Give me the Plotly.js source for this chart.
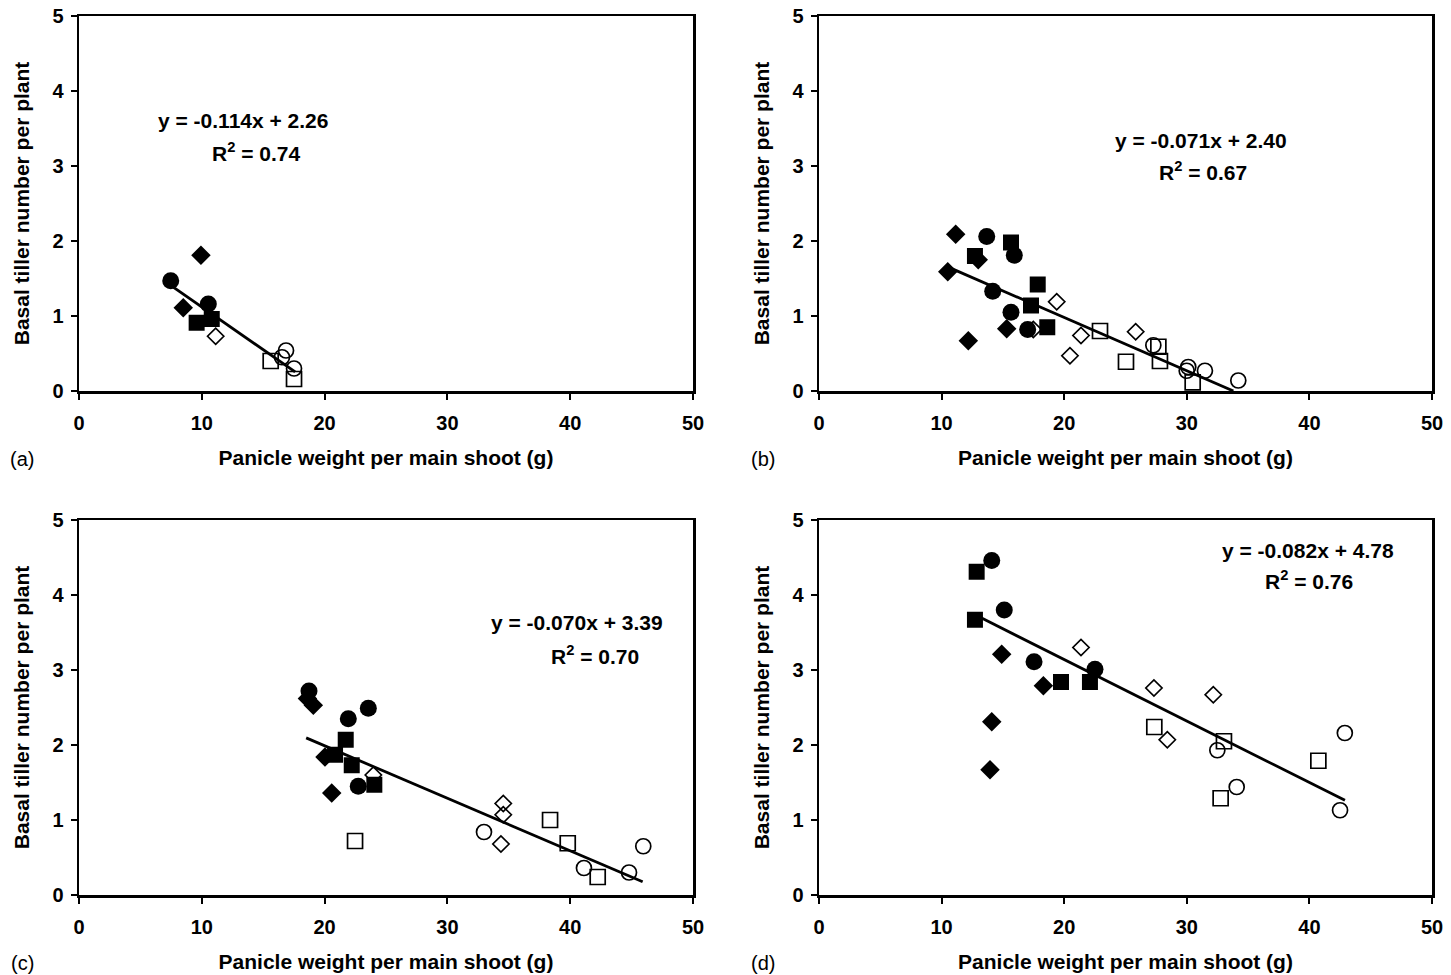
<!DOCTYPE html>
<html>
<head>
<meta charset="utf-8">
<script src="https://cdn.plot.ly/plotly-3.0.1.min.js"></script>
<style>html,body{margin:0;padding:0;background:#fff;}#chart{width:1451px;height:975px;}</style>
</head>
<body>
<div id="chart"></div>
<script>
// ---------- Panel (a) ----------
const a_fcX = [7.47, 10.53];            const a_fcY = [1.47, 1.16];
const a_fdX = [9.93, 8.49];             const a_fdY = [1.81, 1.11];
const a_fsX = [9.58, 10.81];            const a_fsY = [0.91, 0.96];
const a_ocX = [16.86, 16.53, 17.51];    const a_ocY = [0.54, 0.45, 0.30];
const a_odX = [11.13];                  const a_odY = [0.73];
const a_osX = [15.61, 17.51];           const a_osY = [0.40, 0.16];
const a_lineX = [7.5, 17.6];            const a_lineY = [1.405, 0.254];
const a_eq = ["y = -0.114x + 2.26", "R<sup>2</sup> = 0.74"];

// ---------- Panel (b) ----------
const b_fcX = [13.68, 15.93, 14.17, 15.66, 17.02];
const b_fcY = [2.06, 1.81, 1.33, 1.05, 0.82];
const b_fdX = [11.15, 12.99, 10.5, 15.31, 12.18];
const b_fdY = [2.09, 1.75, 1.59, 0.83, 0.67];
const b_fsX = [15.66, 12.72, 17.84, 17.29, 18.62];
const b_fsY = [1.98, 1.80, 1.42, 1.14, 0.85];
const b_ocX = [27.27, 29.99, 30.12, 31.48, 34.2];
const b_ocY = [0.61, 0.27, 0.32, 0.27, 0.14];
const b_odX = [19.39, 17.48, 21.37, 25.83, 20.47];
const b_odY = [1.19, 0.82, 0.74, 0.79, 0.47];
const b_osX = [22.92, 25.04, 27.68, 27.81, 30.48];
const b_osY = [0.80, 0.39, 0.59, 0.40, 0.115];
const b_lineX = [10.5, 33.8];           const b_lineY = [1.655, 0.0];
const b_eq = ["y = -0.071x + 2.40", "R<sup>2</sup> = 0.67"];

// ---------- Panel (c) ----------
const c_fcX = [18.73, 23.56, 21.93, 22.74];
const c_fcY = [2.72, 2.49, 2.35, 1.45];
const c_fdX = [18.6, 19.08, 20.03, 20.58];
const c_fdY = [2.62, 2.53, 1.84, 1.36];
const c_fsX = [21.72, 20.85, 22.21, 24.05];
const c_fsY = [2.07, 1.87, 1.73, 1.47];
const c_ocX = [32.98, 45.95, 41.12, 44.79];
const c_ocY = [0.84, 0.65, 0.36, 0.30];
const c_odX = [23.97, 34.55, 34.55, 34.36];
const c_odY = [1.60, 1.22, 1.07, 0.68];
const c_osX = [22.48, 38.36, 39.8, 42.24];
const c_osY = [0.72, 1.00, 0.69, 0.24];
const c_lineX = [18.5, 45.9];           const c_lineY = [2.095, 0.177];
const c_eq = ["y = -0.070x + 3.39", "R<sup>2</sup> = 0.70"];

// ---------- Panel (d) ----------
const d_fcX = [14.09, 15.11, 17.54, 22.51];
const d_fcY = [4.46, 3.80, 3.11, 3.01];
const d_fdX = [14.9, 18.3, 14.09, 13.95];
const d_fdY = [3.21, 2.79, 2.31, 1.67];
const d_fsX = [12.86, 12.72, 19.74, 22.1];
const d_fsY = [4.31, 3.67, 2.84, 2.84];
const d_ocX = [32.49, 34.07, 42.89, 42.5];
const d_ocY = [1.93, 1.44, 2.16, 1.13];
const d_odX = [21.37, 27.32, 32.16, 28.41];
const d_odY = [3.30, 2.76, 2.67, 2.07];
const d_osX = [27.35, 33.03, 32.76, 40.73];
const d_osY = [2.24, 2.05, 1.29, 1.79];
const d_lineX = [12.9, 42.9];           const d_lineY = [3.722, 1.262];
const d_eq = ["y = -0.082x + 4.78", "R<sup>2</sup> = 0.76"];

const panelLabels = ["(a)", "(b)", "(c)", "(d)"];
const xTitle = "Panicle weight per main shoot (g)";
const yTitle = "Basal tiller number per plant";

const FONT = "Liberation Sans, Arial, sans-serif";
const panels = [
  {ax: "", fc:[a_fcX,a_fcY], fd:[a_fdX,a_fdY], fs:[a_fsX,a_fsY], oc:[a_ocX,a_ocY], od:[a_odX,a_odY], os:[a_osX,a_osY], ln:[a_lineX,a_lineY], eq:a_eq, eqPos:[[13.36,3.60],[14.4,3.19]]},
  {ax: "2", fc:[b_fcX,b_fcY], fd:[b_fdX,b_fdY], fs:[b_fsX,b_fsY], oc:[b_ocX,b_ocY], od:[b_odX,b_odY], os:[b_osX,b_osY], ln:[b_lineX,b_lineY], eq:b_eq, eqPos:[[31.16,3.34],[31.3,2.93]]},
  {ax: "3", fc:[c_fcX,c_fcY], fd:[c_fdX,c_fdY], fs:[c_fsX,c_fsY], oc:[c_ocX,c_ocY], od:[c_odX,c_odY], os:[c_osX,c_osY], ln:[c_lineX,c_lineY], eq:c_eq, eqPos:[[40.55,3.63],[42.0,3.20]]},
  {ax: "4", fc:[d_fcX,d_fcY], fd:[d_fdX,d_fdY], fs:[d_fsX,d_fsY], oc:[d_ocX,d_ocY], od:[d_odX,d_odY], os:[d_osX,d_osY], ln:[d_lineX,d_lineY], eq:d_eq, eqPos:[[39.9,4.60],[40.0,4.20]]}
];

const styles = {
  os: {symbol: "square-open", size: 15, color: "#000", line: {width: 1.7, color: "#000"}},
  od: {symbol: "diamond-open", size: 12.5, color: "#000", line: {width: 1.7, color: "#000"}},
  oc: {symbol: "circle-open", size: 15, color: "#000", line: {width: 1.7, color: "#000"}},
  fs: {symbol: "square", size: 16, color: "#000"},
  fd: {symbol: "diamond", size: 15, color: "#000"},
  fc: {symbol: "circle", size: 17, color: "#000"}
};
const order = ["os", "od", "oc", "fs", "fd", "fc"];

const traces = [];
const annotations = [];
panels.forEach(function(p, i) {
  const xa = "x" + p.ax, ya = "y" + p.ax;
  order.forEach(function(k) {
    traces.push({type: "scatter", mode: "markers", x: p[k][0], y: p[k][1], xaxis: xa, yaxis: ya,
      marker: styles[k], showlegend: false, hoverinfo: "x+y", cliponaxis: false});
  });
  traces.push({type: "scatter", mode: "lines", x: p.ln[0], y: p.ln[1], xaxis: xa, yaxis: ya,
    line: {color: "#000", width: 2.8}, showlegend: false, hoverinfo: "skip"});
  p.eq.forEach(function(t, j) {
    annotations.push({xref: xa, yref: ya, x: p.eqPos[j][0], y: p.eqPos[j][1], text: t, showarrow: false,
      xanchor: "center", yanchor: "middle", font: {family: FONT, size: 21, color: "#000", weight: "bold"}});
  });
});

const labelPos = [[22, 459], [763, 459], [22, 963], [763, 963]];
panelLabels.forEach(function(t, i) {
  annotations.push({xref: "paper", yref: "paper", x: labelPos[i][0] / 1451, y: 1 - labelPos[i][1] / 975,
    text: t, showarrow: false, xanchor: "center", yanchor: "middle",
    font: {family: FONT, size: 20, color: "#000"}});
});

const xDomL = [79 / 1451, 693 / 1451], xDomR = [819 / 1451, 1432 / 1451];
const yDomT = [1 - 391 / 975, 1 - 16 / 975], yDomB = [1 - 895 / 975, 1 - 520 / 975];

function xAxis(dom, anchor) {
  return {domain: dom, anchor: anchor, range: [0, 50], dtick: 10, tick0: 0, showgrid: false, zeroline: false,
    showline: true, mirror: true, linecolor: "#000", linewidth: 2.5, ticks: "outside", ticklen: 6, tickwidth: 2,
    tickcolor: "#000", ticklabelstandoff: 6,
    tickfont: {family: FONT, size: 20, color: "#000", weight: "bold"},
    title: {text: xTitle, standoff: 18, font: {family: FONT, size: 21, color: "#000", weight: "bold"}}};
}
function yAxis(dom, anchor) {
  return {domain: dom, anchor: anchor, range: [0, 5], dtick: 1, tick0: 0, showgrid: false, zeroline: false,
    showline: true, mirror: true, linecolor: "#000", linewidth: 2.5, ticks: "outside", ticklen: 6, tickwidth: 2,
    tickcolor: "#000", ticklabelstandoff: 3,
    tickfont: {family: FONT, size: 20, color: "#000", weight: "bold"},
    title: {text: yTitle, standoff: 17, font: {family: FONT, size: 21, color: "#000", weight: "bold"}}};
}

const layout = {
  width: 1451, height: 975, margin: {l: 0, r: 0, t: 0, b: 0},
  paper_bgcolor: "#fff", plot_bgcolor: "#fff",
  xaxis: xAxis(xDomL, "y"), yaxis: yAxis(yDomT, "x"),
  xaxis2: xAxis(xDomR, "y2"), yaxis2: yAxis(yDomT, "x2"),
  xaxis3: xAxis(xDomL, "y3"), yaxis3: yAxis(yDomB, "x3"),
  xaxis4: xAxis(xDomR, "y4"), yaxis4: yAxis(yDomB, "x4"),
  annotations: annotations,
  font: {family: FONT, color: "#000"}
};

Plotly.newPlot("chart", traces, layout, {displayModeBar: false, staticPlot: true});
</script>
</body>
</html>
